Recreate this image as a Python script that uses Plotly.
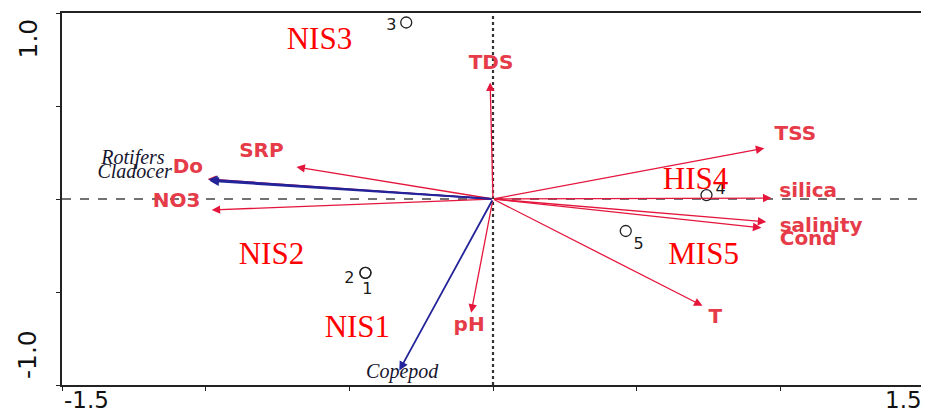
import plotly.graph_objects as go

# Environmental variables (red arrows)
env_names = ["TDS", "TSS", "silica", "salinity", "Cond", "T", "pH", "SRP", "Do", "NO3"]
env_x = [-0.010, 0.944, 0.969, 0.951, 0.934, 0.729, -0.076, -0.684, -0.993, -0.979]
env_y = [0.627, 0.273, 0.005, -0.123, -0.155, -0.574, -0.611, 0.172, 0.107, -0.059]
env_lab_x = [-0.007, 1.052, 1.097, 1.142, 1.097, 0.774, -0.083, -0.806, -1.062, -1.101]
env_lab_y = [0.724, 0.343, 0.040, -0.150, -0.220, -0.638, -0.681, 0.252, 0.166, -0.016]

# Species (blue arrows)
sp_names = ["Rotifers", "Cladocer", "Copepod"]
sp_x = [-0.990, -0.985, -0.326]
sp_y = [0.105, 0.097, -0.922]
sp_lab_x = [-1.253, -1.247, -0.316]
sp_lab_y = [0.214, 0.139, -0.938]

# Sites
site_names = ["1", "2", "3", "4", "5"]
site_x = [-0.444, -0.444, -0.302, 0.743, 0.462]
site_y = [-0.397, -0.397, 0.949, 0.021, -0.172]
site_lab_x = [-0.4375, -0.500, -0.354, 0.792, 0.507]
site_lab_y = [-0.488, -0.429, 0.928, 0.048, -0.247]

# Station group labels
grp_names = ["NIS3", "HIS4", "MIS5", "NIS2", "NIS1"]
grp_x = [-0.604, 0.705, 0.733, -0.771, -0.472]
grp_y = [0.847, 0.097, -0.306, -0.306, -0.702]

# Axis labels
xtick_vals = [-1.5, 1.5]
xtick_text = ["-1.5", "1.5"]
ytick_vals = [1.0, -1.0]
ytick_text = ["1.0", "-1.0"]

RED = "#e4163c"
ENVTXT = "#e63b48"
BLUE = "#23239a"

fig = go.Figure()

# zero lines
fig.add_shape(type="line", x0=-1.5, x1=1.5, y0=0, y1=0, xref="x", yref="y",
              line=dict(color="#444444", width=1.5, dash="dash"), layer="below")
fig.add_shape(type="line", x0=0, x1=0, y0=-1, y1=1, xref="x", yref="y",
              line=dict(color="#333333", width=2.2, dash="dot"), layer="below")

annotations = []
for x, y in zip(env_x, env_y):
    annotations.append(dict(x=x, y=y, ax=0, ay=0, xref="x", yref="y", axref="x", ayref="y",
                            text="", showarrow=True, arrowhead=2, arrowsize=1.3,
                            arrowwidth=1.3, arrowcolor=RED, standoff=0))
for x, y in zip(sp_x, sp_y):
    annotations.append(dict(x=x, y=y, ax=0, ay=0, xref="x", yref="y", axref="x", ayref="y",
                            text="", showarrow=True, arrowhead=2, arrowsize=1.0,
                            arrowwidth=1.8, arrowcolor=BLUE, standoff=0))

# tick label annotations
for v, t in zip(xtick_vals, xtick_text):
    annotations.append(dict(x=v, y=0, xref="x", yref="paper", text=t, showarrow=False,
                            xanchor="left" if v < 0 else "right", yanchor="top", yshift=0,
                            font=dict(family="DejaVu Sans", size=23, color="#111111")))
for v, t in zip(ytick_vals, ytick_text):
    annotations.append(dict(x=0, y=v, xref="paper", yref="y", text=t, showarrow=False,
                            textangle=-90, xanchor="right", xshift=-18,
                            yanchor="top" if v > 0 else "bottom", yshift=-4 if v > 0 else 4,
                            font=dict(family="DejaVu Sans", size=25, color="#111111")))

fig.add_trace(go.Scatter(x=env_lab_x, y=env_lab_y, mode="text", text=env_names,
                         textfont=dict(family="DejaVu Sans", size=20, color=ENVTXT, weight="bold"),
                         hoverinfo="skip", showlegend=False))
fig.add_trace(go.Scatter(x=sp_lab_x, y=sp_lab_y, mode="text", text=sp_names,
                         textfont=dict(family="Liberation Serif", size=20, color="#15152e", style="italic"),
                         hoverinfo="skip", showlegend=False))
fig.add_trace(go.Scatter(x=site_x, y=site_y, mode="markers",
                         marker=dict(symbol="circle-open", size=11, color="#222222", line=dict(width=1.3)),
                         hoverinfo="skip", showlegend=False))
fig.add_trace(go.Scatter(x=site_lab_x, y=site_lab_y, mode="text", text=site_names,
                         textfont=dict(family="DejaVu Sans", size=16, color="#1a1a1a"),
                         hoverinfo="skip", showlegend=False))
fig.add_trace(go.Scatter(x=grp_x, y=grp_y, mode="text", text=grp_names,
                         textfont=dict(family="Liberation Serif", size=31, color="#ff0000"),
                         hoverinfo="skip", showlegend=False))

# page body adds an 8px offset; size the figure so the plot box lands where the reference has it
fig.update_layout(
    width=921, height=409,
    margin=dict(l=54, r=3, t=4, b=32),
    paper_bgcolor="white", plot_bgcolor="white",
    annotations=annotations,
    showlegend=False,
)
fig.update_xaxes(range=[-1.5, 1.5], dtick=0.5, tick0=0, showgrid=False, zeroline=False,
                 showline=True, linecolor="#222222", linewidth=1.5, mirror=True,
                 ticks="outside", ticklen=4, tickcolor="#222222", showticklabels=False)
fig.update_yaxes(range=[-1.0, 1.0], dtick=0.5, tick0=0, showgrid=False, zeroline=False,
                 showline=True, linecolor="#222222", linewidth=1.5, mirror=True,
                 ticks="outside", ticklen=4, tickcolor="#222222", showticklabels=False)

fig.write_html("out.html")
